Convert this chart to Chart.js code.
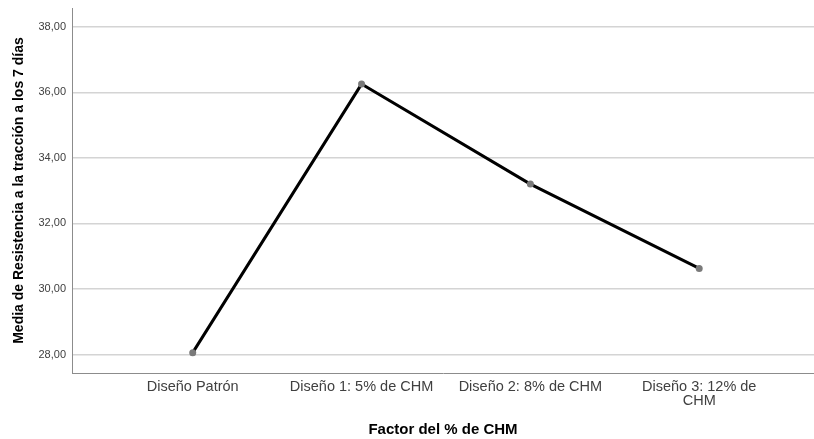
<!DOCTYPE html>
<html>
<head>
<meta charset="utf-8">
<script src="https://cdn.jsdelivr.net/npm/chart.js@4/dist/chart.umd.min.js"></script>
<style>
  html, body { margin: 0; padding: 0; background: #ffffff; }
  #wrap { width: 814px; height: 439px; }
</style>
</head>
<body>
<div id="wrap"><canvas id="c" width="814" height="439"></canvas></div>
<script>
// ---- data ----
const categories = ['Diseño Patrón', 'Diseño 1: 5% de CHM', 'Diseño 2: 8% de CHM', ['Diseño 3: 12% de', 'CHM']];
const meanValues = [28.06, 36.25, 33.20, 30.63];
const yTickValues = [28, 30, 32, 34, 36, 38];
const yTickLabels = ['28,00', '30,00', '32,00', '34,00', '36,00', '38,00'];
const xTitle = 'Factor del % de CHM';
const yTitle = 'Media de Resistencia a la tracción a los 7 días';

const points = meanValues.map((v, i) => ({ x: i, y: v }));
const FONT = "'Liberation Sans', Arial, sans-serif";

new Chart(document.getElementById('c'), {
  type: 'line',
  data: {
    datasets: [{
      data: points,
      borderColor: '#000000',
      borderWidth: 3,
      pointRadius: 3.5,
      pointBackgroundColor: '#7a7a7a',
      pointBorderColor: '#7a7a7a',
      pointBorderWidth: 0,
      tension: 0,
      fill: false
    }]
  },
  options: {
    responsive: false,
    animation: false,
    layout: { autoPadding: false, padding: { top: 8, right: 0, left: 0, bottom: 0 } },
    plugins: { legend: { display: false }, tooltip: { enabled: false } },
    scales: {
      x: {
        type: 'linear',
        min: -0.715,
        max: 3.68,
        afterFit: (s) => { s.height = 66; s.paddingLeft = 0; s.paddingRight = 0; },
        afterBuildTicks: (s) => { s.ticks = categories.map((c, i) => ({ value: i })); },
        grid: { display: false, drawTicks: false },
        border: { display: true, color: '#8c8c8c', width: 1 },
        ticks: {
          padding: 7,
          color: '#404040',
          font: { family: FONT, size: 14.5, lineHeight: 0.95 },
          maxRotation: 0,
          autoSkip: false,
          callback: (v) => categories[v]
        },
        title: {
          display: true,
          text: xTitle,
          color: '#000000',
          font: { family: FONT, size: 15, weight: 'bold', lineHeight: 1.2 },
          padding: { top: 0, bottom: 0 }
        }
      },
      y: {
        min: 27.44,
        max: 38.57,
        afterFit: (s) => { s.width = 72; s.paddingTop = 0; s.paddingBottom = 0; },
        afterBuildTicks: (s) => { s.ticks = yTickValues.map(v => ({ value: v })); },
        grid: { color: '#d4d4d4', lineWidth: 1.5, drawTicks: false },
        border: { display: true, color: '#8c8c8c', width: 1 },
        ticks: {
          padding: 6,
          color: '#404040',
          font: { family: FONT, size: 11 },
          callback: (v) => yTickLabels[yTickValues.indexOf(v)]
        },
        title: {
          display: true,
          text: yTitle,
          color: '#000000',
          font: { family: FONT, size: 14, weight: 'bold', lineHeight: 1.2 },
          padding: { top: 11, bottom: 0 }
        }
      }
    }
  }
});
</script>
</body>
</html>
